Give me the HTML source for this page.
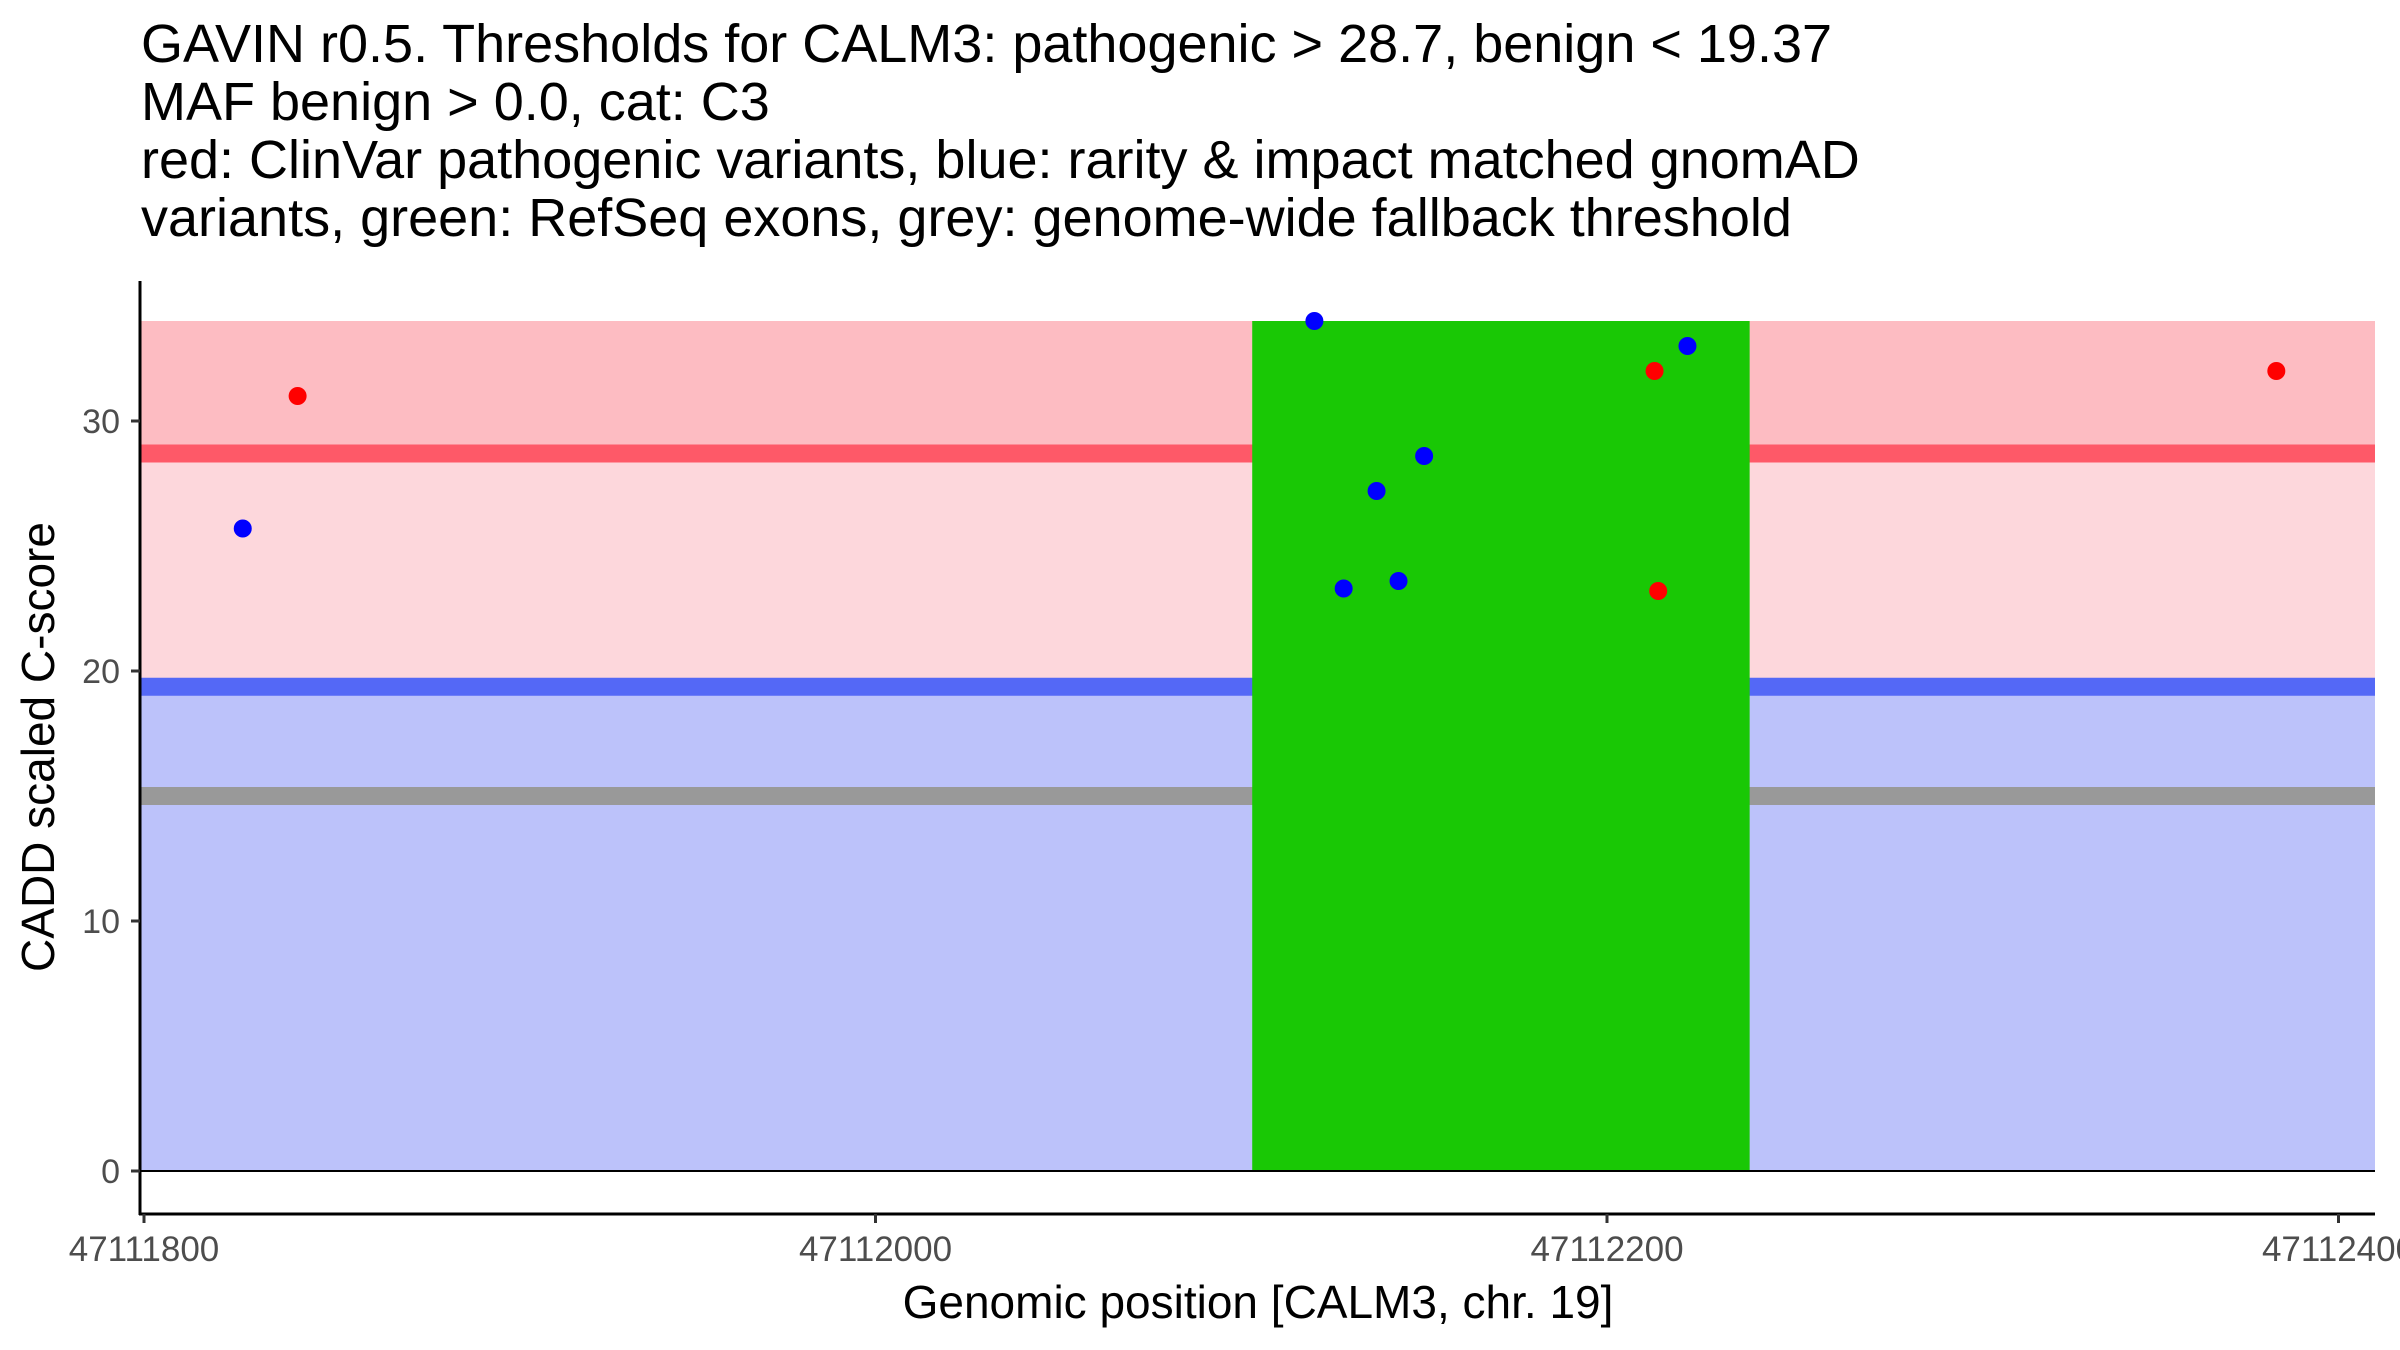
<!DOCTYPE html>
<html><head><meta charset="utf-8"><style>
body{margin:0;background:#fff;overflow:hidden;}
svg{display:block;font-family:"Liberation Sans",Arial,sans-serif;}
</style></head><body>
<svg id="chart" width="2400" height="1350" viewBox="0 0 2400 1350" xmlns="http://www.w3.org/2000/svg">
<g font-size="54" fill="#000">
<text x="141" y="62">GAVIN r0.5. Thresholds for CALM3: pathogenic &gt; 28.7, benign &lt; 19.37</text>
<text x="141" y="120">MAF benign &gt; 0.0, cat: C3</text>
<text x="141" y="178">red: ClinVar pathogenic variants, blue: rarity &amp; impact matched gnomAD</text>
<text x="141" y="236">variants, green: RefSeq exons, grey: genome-wide fallback threshold</text>
</g>
<g id="plot"></g>
<text x="1258" y="1318" font-size="46" text-anchor="middle">Genomic position [CALM3, chr. 19]</text>
<text transform="translate(54,747) rotate(-90)" font-size="46" text-anchor="middle">CADD scaled C-score</text>
</svg>
<script>
const xTicks = [47111800, 47112000, 47112200, 47112400];
const yTicks = [0, 10, 20, 30];
const thresholds = [28.7, 19.37, 15];
const bandMax = 34;
const exonStart = [47112103];
const exonEnd = [47112239];
const pathoPos = [47111842, 47112213, 47112214, 47112383];
const pathoScore = [31, 32, 23.2, 32];
const benignPos = [47111827, 47112120, 47112128, 47112137, 47112143, 47112150, 47112222];
const benignScore = [25.7, 34, 23.3, 27.2, 23.6, 28.6, 33];

const NS = "http://www.w3.org/2000/svg";
const X0 = 141, X1 = 2375;
function xs(v){ return 144 + (v - 47111800) * 3.6575; }
function ys(v){ return 1171 - 25 * v; }
const g = document.getElementById('plot');
function mk(tag, attrs){ const e = document.createElementNS(NS, tag); for (const k in attrs) e.setAttribute(k, attrs[k]); g.appendChild(e); return e; }

let r;
r = mk('rect', {x:X0, y:ys(bandMax), width:X1-X0, height:ys(thresholds[1])-ys(bandMax), fill:'#fdd7dc'});


r = mk('rect', {x:X0, y:ys(bandMax), width:X1-X0, height:ys(thresholds[0])-ys(bandMax), fill:'#fdbcc2'});


r = mk('rect', {x:X0, y:ys(thresholds[1]), width:X1-X0, height:ys(0)-ys(thresholds[1]), fill:'#bcc2fa'});


const lineCols = ['#fe5968', '#5468f6', '#999999'];
const lineNames = ['pathogenic-threshold-line', 'benign-threshold-line', 'fallback-threshold-line'];
thresholds.forEach((t, i) => {
  const l = mk('rect', {x:X0, y:ys(t)-9, width:X1-X0, height:18, fill:lineCols[i]});
  
  
});
exonStart.forEach((s, i) => {
  const e = mk('rect', {x:xs(s), y:ys(bandMax), width:xs(exonEnd[i])-xs(s), height:ys(0)-ys(bandMax), fill:'#19c805'});
  
  
});
const base = mk('line', {x1:X0, x2:X1, y1:ys(0), y2:ys(0), stroke:'#000', 'stroke-width':2});


benignPos.forEach((p, i) => {
  const c = mk('circle', {cx:xs(p), cy:ys(benignScore[i]), r:9, fill:'#0000ff'});
  
  
});
pathoPos.forEach((p, i) => {
  const c = mk('circle', {cx:xs(p), cy:ys(pathoScore[i]), r:9, fill:'#ff0000'});
  
  
});
const ya = mk('line', {x1:140, x2:140, y1:281, y2:1215, stroke:'#000', 'stroke-width':3});


const xa = mk('line', {x1:139, x2:X1, y1:1214, y2:1214, stroke:'#000', 'stroke-width':3});


yTicks.forEach(t => {
  const tk = mk('line', {x1:131, x2:140, y1:ys(t), y2:ys(t), stroke:'#333', 'stroke-width':3});
  
  
  const tl = mk('text', {x:120, y:ys(t)+12, 'font-size':34, 'text-anchor':'end', fill:'#4d4d4d'});
  tl.textContent = t;
  
  
});
xTicks.forEach(t => {
  const tk = mk('line', {x1:xs(t), x2:xs(t), y1:1214, y2:1223, stroke:'#333', 'stroke-width':3});
  
  
  const tl = mk('text', {x:xs(t), y:1261, 'font-size':35, 'text-anchor':'middle', fill:'#4d4d4d'});
  tl.textContent = t;
  
  
});
</script>
</body></html>
